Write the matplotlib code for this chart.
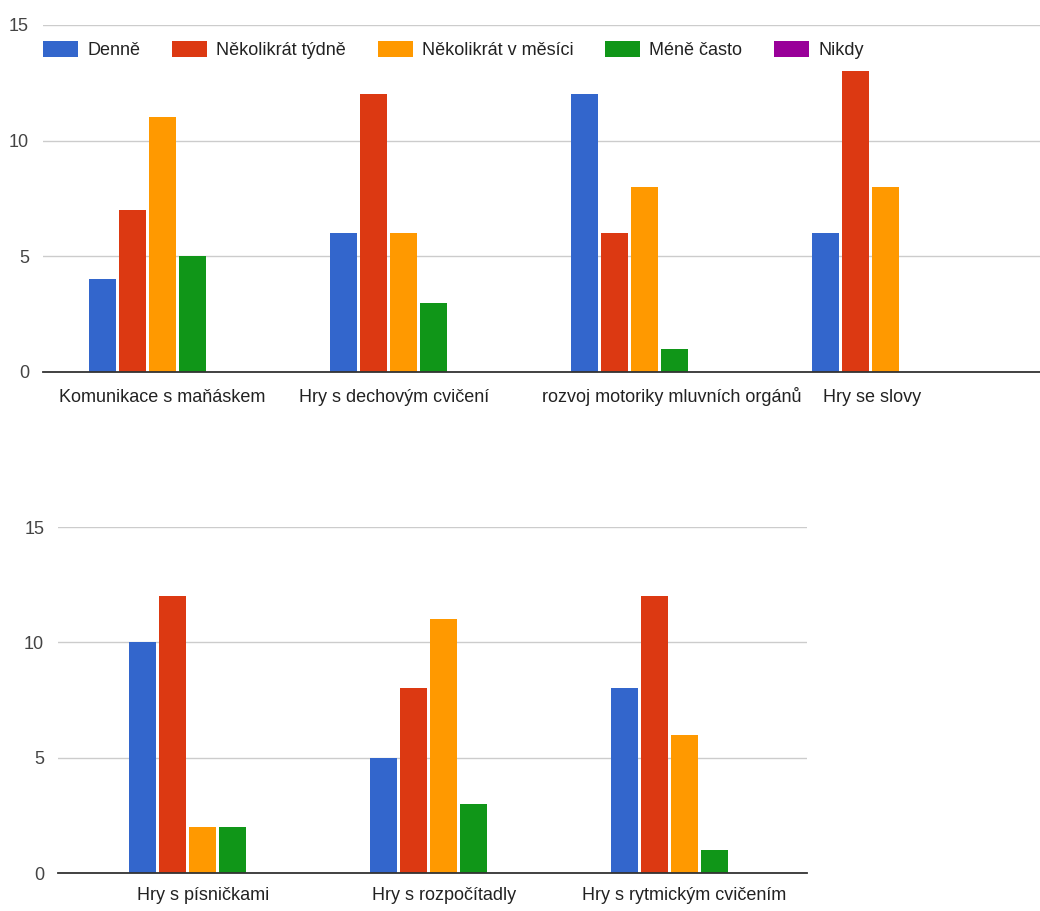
import matplotlib
matplotlib.use("Agg")
import matplotlib.pyplot as plt
from matplotlib.transforms import ScaledTranslation
import numpy as np

# ---------------------------------------------------------------------------

SERIES = ["Denně", "Několikrát týdně", "Několikrát v měsíci", "Méně často", "Nikdy"]
COLORS = ["#3366cc", "#dc3912", "#ff9900", "#109618", "#990099"]

TOP_CATS = ["Komunikace s maňáskem", "Hry s dechovým cvičení",
            "rozvoj motoriky mluvních orgánů", "Hry se slovy"]
TOP_DENNE = [4, 6, 12, 6]
TOP_TYDNE = [7, 12, 6, 13]
TOP_MESICI = [11, 6, 8, 8]
TOP_MENE = [5, 3, 1, 0]
TOP_NIKDY = [0, 0, 0, 0]

BOT_CATS = ["Hry s písničkami", "Hry s rozpočítadly", "Hry s rytmickým cvičením"]
BOT_DENNE = [10, 5, 8]
BOT_TYDNE = [12, 8, 12]
BOT_MESICI = [2, 11, 6]
BOT_MENE = [2, 3, 1]
BOT_NIKDY = [0, 0, 0]

Y_TICKS = [0, 5, 10, 15]

# ---------------------------------------------------------------------------

plt.rcParams["font.family"] = ["Liberation Sans", "DejaVu Sans"]

STEP = 0.1245   # slot width per series (data units)
BAR_W = 0.112


def draw(ax, cats, values, xlim):
    x = np.arange(len(cats))
    handles = []
    for i, (name, vals, col) in enumerate(zip(SERIES, values, COLORS)):
        h = ax.bar(x + (i - 2) * STEP, vals, BAR_W, color=col, label=name,
                   zorder=3)
        handles.append(h)
    ax.set_xlim(*xlim)
    ax.set_ylim(0, 15)
    ax.set_yticks(Y_TICKS)
    ax.set_xticks(x)
    ax.set_xticklabels(cats, fontsize=13, color="#222222")
    ax.yaxis.grid(True, color="#cccccc", linewidth=1, zorder=0)
    ax.set_axisbelow(True)
    for s in ("top", "right", "left"):
        ax.spines[s].set_visible(False)
    ax.spines["bottom"].set_color("#333333")
    ax.spines["bottom"].set_linewidth(1.3)
    ax.spines["bottom"].set_zorder(4)
    ax.tick_params(axis="y", length=0, pad=10, labelsize=13, labelcolor="#444444")
    ax.tick_params(axis="x", length=0, pad=10)
    return handles


fig = plt.figure(figsize=(10.4, 9.11), dpi=100)

ax1 = fig.add_axes([0.0413, 0.5917, 0.9587, 0.3809])
handles = draw(ax1, TOP_CATS,
               [TOP_DENNE, TOP_TYDNE, TOP_MESICI, TOP_MENE, TOP_NIKDY],
               (-0.496, 3.641))

# truncated labels in the original sit a little off-centre
for lab, dx, dy in zip(ax1.get_xticklabels(), [0, -9, 27, -13], [-3, -3, -1, -3]):
    lab.set_transform(lab.get_transform() +
                      ScaledTranslation(dx / 100, dy / 100, fig.dpi_scale_trans))

ax2 = fig.add_axes([0.0558, 0.0417, 0.7202, 0.3798])
draw(ax2, BOT_CATS,
     [BOT_DENNE, BOT_TYDNE, BOT_MESICI, BOT_MENE, BOT_NIKDY],
     (-0.600, 2.508))

fig.legend(handles=handles, labels=SERIES, loc="center left",
           bbox_to_anchor=(0.0413, 0.945), ncol=5, frameon=False,
           fontsize=13, handlelength=1.94, handleheight=1.0,
           handletextpad=0.5, columnspacing=1.77, borderpad=0,
           borderaxespad=0, labelcolor="#222222")

fig.savefig("out.png", dpi=100)
